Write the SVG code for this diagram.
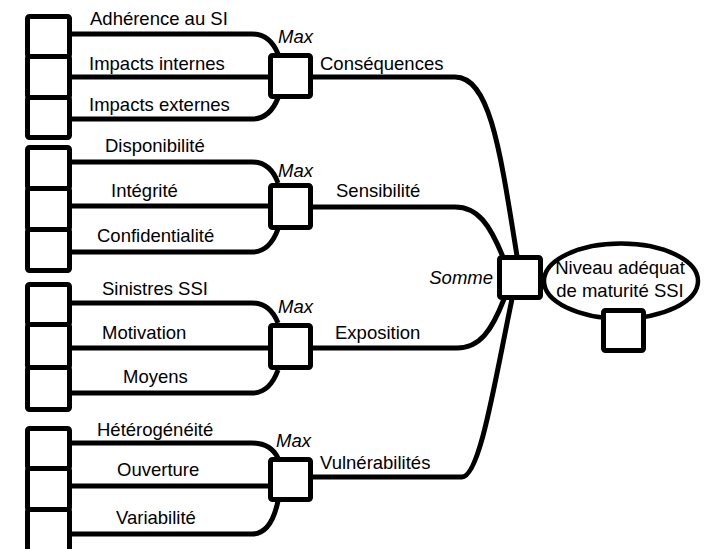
<svg xmlns="http://www.w3.org/2000/svg" width="709" height="549" viewBox="0 0 709 549">
<style>
.b{fill:#fff;stroke:#000;stroke-width:5;stroke-linejoin:round}
.c{fill:none;stroke:#000;stroke-width:5;stroke-linejoin:round}
.t{font-family:"Liberation Sans",Arial,sans-serif;font-size:18.5px;fill:#000}
.i{font-family:"Liberation Sans",Arial,sans-serif;font-size:18.5px;font-style:italic;fill:#000}
</style>
<rect width="709" height="549" fill="#fff"/>
<g id="connectors">
<path class="c" d="M70,34 H252 C267,34 274,44 278,54"/>
<path class="c" d="M70,77 H271"/>
<path class="c" d="M70,119 H252 C267,119 274,108 278,98"/>
<path class="c" d="M70,162 H252 C267,162 274,172 278,183"/>
<path class="c" d="M70,206 H271"/>
<path class="c" d="M70,252 H252 C267,252 274,240 278,229"/>
<path class="c" d="M70,303 H252 C267,303 274,313 278,323"/>
<path class="c" d="M70,348 H271"/>
<path class="c" d="M70,393 H252 C267,393 274,381 278,370"/>
<path class="c" d="M70,443 H252 C267,443 274,450 278,458"/>
<path class="c" d="M70,486 H271"/>
<path class="c" d="M70,534 H252 C267,534 274,520 278,501"/>
<path class="c" d="M313,77 H455 C490,77 500,150 517,256"/>
<path class="c" d="M313,207 H455 C478,207 490,225 503,257"/>
<path class="c" d="M313,348 H457 C480,348 492,330 504,299"/>
<path class="c" d="M313,477 H462 C480,477 495,380 512,299"/>
</g>
<g id="g1-inputs">
<rect class="b" x="27.5" y="16.5" width="42" height="40" rx="2"/>
<rect class="b" x="27.5" y="56.5" width="42" height="41" rx="2"/>
<rect class="b" x="27.5" y="97.5" width="42" height="40" rx="2"/>
</g>
<g id="g2-inputs">
<rect class="b" x="27.5" y="147.5" width="42" height="41" rx="2"/>
<rect class="b" x="27.5" y="188.5" width="42" height="41" rx="2"/>
<rect class="b" x="27.5" y="229.5" width="42" height="41" rx="2"/>
</g>
<g id="g3-inputs">
<rect class="b" x="27.5" y="284.5" width="42" height="40" rx="2"/>
<rect class="b" x="27.5" y="324.5" width="42" height="43" rx="2"/>
<rect class="b" x="27.5" y="367.5" width="42" height="42" rx="2"/>
</g>
<g id="g4-inputs">
<rect class="b" x="27.5" y="428.5" width="42" height="40" rx="2"/>
<rect class="b" x="27.5" y="468.5" width="42" height="41" rx="2"/>
<rect class="b" x="27.5" y="509.5" width="42" height="45" rx="2"/>
</g>
<g id="labels">
<text class="t" x="90" y="25">Adhérence au SI</text>
<text class="t" x="89" y="70">Impacts internes</text>
<text class="t" x="89" y="111">Impacts externes</text>
<text class="t" x="105" y="152">Disponibilité</text>
<text class="t" x="111" y="197">Intégrité</text>
<text class="t" x="97" y="242">Confidentialité</text>
<text class="t" x="102" y="295">Sinistres SSI</text>
<text class="t" x="102" y="339">Motivation</text>
<text class="t" x="123" y="383">Moyens</text>
<text class="t" x="97" y="436">Hétérogénéité</text>
<text class="t" x="117" y="476">Ouverture</text>
<text class="t" x="116" y="524">Variabilité</text>
<text class="t" x="320" y="70">Conséquences</text>
<text class="t" x="336" y="197">Sensibilité</text>
<text class="t" x="335" y="339">Exposition</text>
<text class="t" x="320" y="469">Vulnérabilités</text>
</g>
<g id="max1"><rect class="b" x="270.5" y="55.5" width="40" height="41" rx="2"/><text class="i" x="278" y="43">Max</text></g>
<g id="max2"><rect class="b" x="270.5" y="185.5" width="40" height="42" rx="2"/><text class="i" x="278" y="177">Max</text></g>
<g id="max3"><rect class="b" x="270.5" y="325.5" width="40" height="42" rx="2"/><text class="i" x="278" y="313">Max</text></g>
<g id="max4"><rect class="b" x="270.5" y="459.5" width="40" height="40" rx="2"/><text class="i" x="276" y="447">Max</text></g>
<g id="somme"><rect class="b" x="499.5" y="257.5" width="41" height="40" rx="2"/><text class="i" x="493" y="284" text-anchor="end">Somme</text></g>
<g id="niveau">
<ellipse cx="621" cy="281" rx="77" ry="37.5" fill="#fff" stroke="#000" stroke-width="4.5"/>
<text class="t" x="620" y="274" text-anchor="middle">Niveau adéquat</text>
<text class="t" x="620" y="297" text-anchor="middle">de maturité SSI</text>
<rect class="b" x="603.5" y="310.5" width="40" height="40" rx="2"/>
</g>
</svg>
